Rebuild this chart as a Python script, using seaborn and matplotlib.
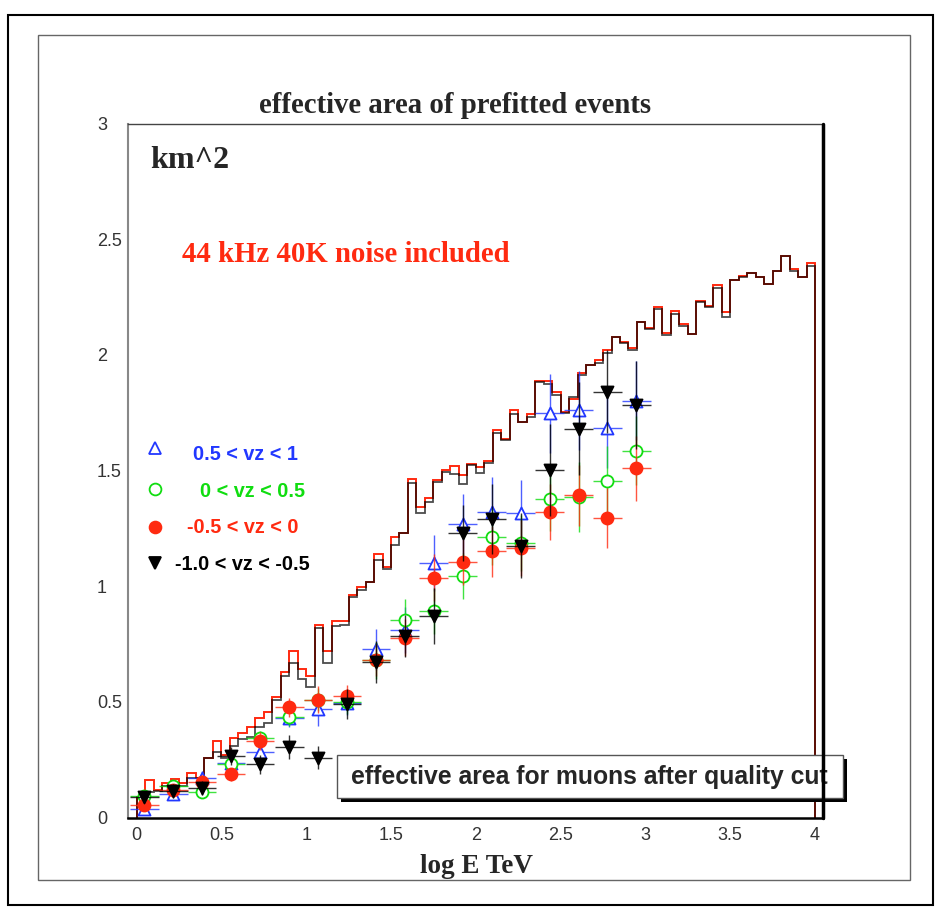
import numpy as np
import matplotlib
matplotlib.use("Agg")
import matplotlib.pyplot as plt
from matplotlib.patches import Rectangle
from matplotlib.lines import Line2D
from matplotlib.ticker import MultipleLocator, FixedLocator, FixedFormatter
import seaborn as sns

# histogram: effective area (km^2) in 0.05 bins of log E, 0 .. 4
hist_red = [0.09, 0.16, 0.12, 0.15, 0.165, 0.15, 0.194, 0.172, 0.258, 0.33,
            0.27, 0.344, 0.366, 0.39, 0.43, 0.457, 0.52, 0.63, 0.72, 0.64,
            0.61, 0.834, 0.72, 0.849, 0.85, 0.96, 0.997, 1.02, 1.138, 1.083,
            1.214, 1.23, 1.465, 1.343, 1.379, 1.461, 1.501, 1.519, 1.48, 1.53,
            1.513, 1.541, 1.675, 1.635, 1.76, 1.71, 1.746, 1.887, 1.887, 1.84,
            1.754, 1.807, 1.922, 1.955, 1.977, 2.02, 2.075, 2.057, 2.028, 2.14,
            2.114, 2.205, 2.095, 2.19, 2.133, 2.09, 2.234, 2.21, 2.301, 2.186,
            2.323, 2.34, 2.355, 2.335, 2.305, 2.363, 2.427, 2.373, 2.337, 2.395]
hist_black = [0.09, 0.11, 0.115, 0.136, 0.148, 0.136, 0.17, 0.172, 0.258, 0.283,
              0.258, 0.308, 0.34, 0.346, 0.39, 0.41, 0.51, 0.61, 0.67, 0.60,
              0.565, 0.82, 0.67, 0.828, 0.83, 0.953, 0.985, 1.02, 1.112, 1.076,
              1.178, 1.228, 1.444, 1.318, 1.365, 1.45, 1.494, 1.484, 1.441, 1.523,
              1.49, 1.533, 1.66, 1.63, 1.743, 1.71, 1.732, 1.883, 1.873, 1.826,
              1.75, 1.816, 1.912, 1.955, 1.966, 2.006, 2.075, 2.05, 2.02, 2.14,
              2.112, 2.2, 2.085, 2.175, 2.126, 2.088, 2.23, 2.208, 2.291, 2.162,
              2.323, 2.335, 2.355, 2.335, 2.305, 2.363, 2.427, 2.363, 2.337, 2.383]
bin_edges = np.linspace(0, 4, len(hist_red) + 1)

# points with errors, four vz bands
x_pts = [0.045, 0.216, 0.386, 0.557, 0.728, 0.899, 1.069, 1.240, 1.411,
         1.581, 1.752, 1.923, 2.093, 2.264, 2.435, 2.606, 2.776, 2.947]
x_halfwidth = 0.085

vz_hi = [0.035, 0.10, 0.169, 0.236, 0.284, 0.432, 0.467, 0.493, 0.727,
         0.81, 1.10, 1.268, 1.32, 1.318, 1.747, 1.76, 1.682, 1.802]
vz_hi_err = [0.02, 0.02, 0.03, 0.03, 0.03, 0.04, 0.07, 0.05, 0.09,
             0.10, 0.12, 0.13, 0.15, 0.14, 0.17, 0.17, 0.17, 0.17]
vz_mid_hi = [0.092, 0.135, 0.112, 0.233, 0.345, 0.435, 0.509, 0.498, 0.68,
             0.855, 0.892, 1.043, 1.212, 1.187, 1.378, 1.385, 1.455, 1.586]
vz_mid_hi_err = [0.02, 0.02, 0.02, 0.03, 0.03, 0.04, 0.05, 0.05, 0.08,
                 0.09, 0.10, 0.10, 0.12, 0.12, 0.14, 0.15, 0.15, 0.15]
vz_mid_lo = [0.054, 0.12, 0.152, 0.186, 0.33, 0.476, 0.51, 0.524, 0.68,
             0.777, 1.037, 1.104, 1.15, 1.165, 1.32, 1.392, 1.295, 1.51]
vz_mid_lo_err = [0.02, 0.02, 0.03, 0.03, 0.04, 0.04, 0.06, 0.05, 0.07,
                 0.08, 0.10, 0.10, 0.11, 0.12, 0.12, 0.13, 0.13, 0.14]
vz_lo = [0.09, 0.115, 0.127, 0.265, 0.23, 0.305, 0.259, 0.49, 0.673,
         0.785, 0.87, 1.229, 1.29, 1.175, 1.502, 1.681, 1.84, 1.785]
vz_lo_err = [0.02, 0.03, 0.03, 0.04, 0.04, 0.05, 0.05, 0.065, 0.09,
             0.09, 0.12, 0.12, 0.15, 0.14, 0.20, 0.20, 0.18, 0.19]

series_labels = ["0.5 < vz < 1", "0 < vz < 0.5", "-0.5 < vz < 0", "-1.0 < vz < -0.5"]
x_ticklabels = ["0", "0.5", "1", "1.5", "2", "2.5", "3", "3.5", "4"]
y_ticklabels = ["0", "0.5", "1", "1.5", "2", "2.5", "3"]

sns.set_style("white")
plt.rcParams["font.family"] = ["Liberation Sans", "DejaVu Sans"]

W, H = 935, 921
fig = plt.figure(figsize=(W / 100, H / 100), dpi=100)
fig.patch.set_facecolor("white")


def fx(px):
    return px / W


def fy(py):
    return 1 - py / H


# page frames
fig.add_artist(Rectangle((fx(8), fy(905)), (933 - 8) / W, (905 - 15) / H,
                         transform=fig.transFigure, fill=False, ec="black", lw=1.5))
fig.add_artist(Rectangle((fx(38), fy(880)), (910 - 38) / W, (880 - 35) / H,
                         transform=fig.transFigure, fill=False, ec="#666666", lw=1.0))

ax = fig.add_axes([fx(128.3), fy(817.5), (823 - 128.3) / W, (817.5 - 123.5) / H])

ax.stairs(hist_red, bin_edges, color="#ff2a10", lw=1.4, baseline=0)
ax.stairs(hist_black, bin_edges, color="black", lw=1.3, alpha=0.7, baseline=0)

styles = [
    (vz_hi, vz_hi_err, "#2238ff", "^", "white"),
    (vz_mid_hi, vz_mid_hi_err, "#10dd10", "o", "white"),
    (vz_mid_lo, vz_mid_lo_err, "#ff2a10", "o", "#ff2a10"),
    (vz_lo, vz_lo_err, "black", "v", "black"),
]
for i, (vals, errs, col, mk, face) in enumerate(styles):
    ax.errorbar(x_pts, vals, xerr=x_halfwidth, yerr=errs, fmt="none",
                ecolor=col, elinewidth=1.0, alpha=0.8, zorder=3 + i)
    sns.scatterplot(x=x_pts, y=vals, ax=ax, marker=mk, s=75, facecolor=face,
                    edgecolor=col, linewidth=1.3, zorder=3.5 + i, legend=False)

ax.set_xlim(-0.049, 4.047)
ax.set_ylim(0, 3)
ax.xaxis.set_major_locator(FixedLocator([0, 0.5, 1, 1.5, 2, 2.5, 3, 3.5, 4]))
ax.xaxis.set_major_formatter(FixedFormatter(x_ticklabels))
ax.yaxis.set_major_locator(FixedLocator([0, 0.5, 1, 1.5, 2, 2.5, 3]))
ax.yaxis.set_major_formatter(FixedFormatter(y_ticklabels))
ax.xaxis.set_minor_locator(MultipleLocator(0.1))
ax.yaxis.set_minor_locator(MultipleLocator(0.1))
ax.tick_params(axis="x", which="both", direction="in", colors="black", labelcolor="#333333",
               labelsize=13, pad=7)
ax.tick_params(axis="y", which="both", direction="in", colors="#777777", labelcolor="#333333",
               labelsize=13, pad=22.5)
ax.tick_params(which="major", length=9.4, width=1.2)
ax.tick_params(which="minor", length=5, width=1.0)
for lab in ax.get_yticklabels():
    lab.set_horizontalalignment("left")

ax.spines["left"].set_color("#888888")
ax.spines["left"].set_linewidth(1.5)
ax.spines["bottom"].set_color("black")
ax.spines["bottom"].set_linewidth(1.8)
ax.spines["top"].set_color("#444444")
ax.spines["top"].set_linewidth(1.0)
ax.spines["right"].set_visible(False)
ax.grid(False)

serif = ["Liberation Serif", "DejaVu Serif"]
fig.text(fx(455), fy(113), "effective area of prefitted events", ha="center", va="baseline",
         family=serif, weight="bold", fontsize=20.7)
fig.text(fx(150), fy(168), "km^2", ha="left", va="baseline",
         family=serif, weight="bold", fontsize=23)
fig.text(fx(182), fy(262), "44 kHz 40K noise included", ha="left", va="baseline",
         family=serif, weight="bold", fontsize=20.7, color="#ff2a10")
fig.text(fx(476), fy(873), "log E TeV", ha="center", va="baseline",
         family=serif, weight="bold", fontsize=19.5)

# legend drawn by hand, like the original
leg_rows = [(448, 454, 193), (489, 491, 200), (527, 527, 187), (563, 564, 175)]
for (vals, errs, col, mk, face), label, (my, ty, tx) in zip(styles, series_labels, leg_rows):
    fig.add_artist(Line2D([fx(155)], [fy(my)], transform=fig.transFigure, marker=mk,
                          ms=8.5, mfc=face, mec=col, mew=1.3, ls="none"))
    fig.text(fx(tx), fy(ty), label, ha="left", va="center", color=col,
             weight="bold", fontsize=14.3)

# annotation box with drop shadow
fig.add_artist(Rectangle((fx(341), fy(802)), (847 - 341) / W, (802 - 759) / H,
                         transform=fig.transFigure, fc="black", ec="none"))
fig.add_artist(Rectangle((fx(337), fy(798)), (843 - 337) / W, (798 - 755) / H,
                         transform=fig.transFigure, fc="white", ec="#555555", lw=1.0))
fig.text(fx(589), fy(777), "effective area for muons after quality cut", ha="center",
         va="center", weight="bold", fontsize=17.8)

# right frame line is drawn last, across the box, as in the original
fig.add_artist(Line2D([1, 1], [0, 1], transform=ax.transAxes, color="black", lw=2.5,
                      zorder=5))

fig.savefig("out.png", dpi=100)
